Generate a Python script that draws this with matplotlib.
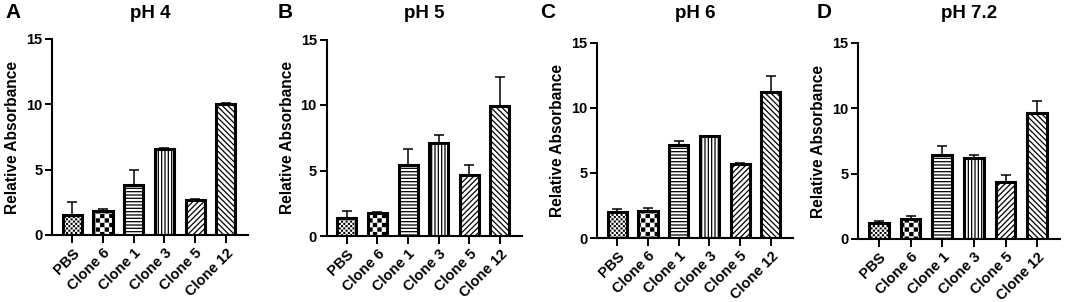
import numpy as np
import matplotlib
matplotlib.use("Agg")
import matplotlib.pyplot as plt
from matplotlib import hatch as mhatch
from matplotlib.path import Path

# ---- data ----
groups = ["PBS", "Clone 6", "Clone 1", "Clone 3", "Clone 5", "Clone 12"]
panels = ["A", "B", "C", "D"]
titles = ["pH 4", "pH 5", "pH 6", "pH 7.2"]

ph4_mean = [1.55, 1.85, 3.8, 6.6, 2.65, 10.0]
ph4_err = [0.95, 0.12, 1.15, 0.08, 0.12, 0.1]
ph5_mean = [1.4, 1.78, 5.42, 7.07, 4.63, 9.92]
ph5_err = [0.48, 0.02, 1.2, 0.63, 0.8, 2.2]
ph6_mean = [1.97, 2.04, 7.13, 7.8, 5.68, 11.22]
ph6_err = [0.28, 0.29, 0.28, 0.05, 0.06, 1.2]
ph72_mean = [1.22, 1.56, 6.45, 6.22, 4.39, 9.62]
ph72_err = [0.18, 0.23, 0.69, 0.18, 0.51, 0.97]

means = [ph4_mean, ph5_mean, ph6_mean, ph72_mean]
errs = [ph4_err, ph5_err, ph6_err, ph72_err]


# ---- checkerboard hatches (replace the circle hatches 'o' / 'O') ----
class _Checker(mhatch.HatchPatternBase):
    char = "o"
    cells = 40
    inset = 0.12

    def __init__(self, hatch, density):
        self.n = self.cells if hatch.count(self.char) else 0
        self.num_vertices = 5 * (self.n * self.n // 2)

    def set_vertices_and_codes(self, vertices, codes):
        s = 1.0 / self.n
        ins = self.inset * s
        sq = np.array([[ins, ins], [s - ins, ins], [s - ins, s - ins],
                       [ins, s - ins], [ins, ins]])
        i, j = np.meshgrid(np.arange(self.n), np.arange(self.n))
        m = (i + j) % 2 == 0
        org = np.column_stack([i[m], j[m]]) * s
        vertices[:] = (org[:, None, :] + sq[None]).reshape(-1, 2)
        c = [Path.MOVETO, Path.LINETO, Path.LINETO, Path.LINETO, Path.CLOSEPOLY]
        codes[:] = np.tile(c, len(org))


class FineChecker(_Checker):
    char = "o"
    cells = 44
    inset = 0.32


class CoarseChecker(_Checker):
    char = "O"
    cells = 22
    inset = 0.16


mhatch._hatch_types[:] = [t for t in mhatch._hatch_types
                          if t not in (mhatch.SmallCircles, mhatch.LargeCircles)]
mhatch._hatch_types += [FineChecker, CoarseChecker]

hatches = ["o", "O", "-----", "|||||", "//////", "\\\\\\\\\\\\"]

plt.rcParams["font.family"] = ["Liberation Sans", "DejaVu Sans"]
plt.rcParams["font.weight"] = "bold"
plt.rcParams["hatch.linewidth"] = 0.9

W, H = 1065, 302
fig = plt.figure(figsize=(W / 100, H / 100), dpi=100)

# axes boxes in pixels: left, top, right, bottom
boxes = [(52, 39, 248, 235), (326.5, 39.5, 522, 236),
         (597, 42.5, 793, 238), (858, 43, 1060, 239)]
letter_x = [5, 278, 540, 817]
title_x = [150, 424, 695, 969]

x = np.arange(len(groups))
for k in range(4):
    l, t, r, b = boxes[k]
    ax = fig.add_axes([l / W, 1 - b / H, (r - l) / W, (b - t) / H])
    m = np.array(means[k])
    e = np.array(errs[k])
    ax.errorbar(x, m, yerr=[np.zeros_like(e), e], fmt="none", ecolor="black",
                elinewidth=1.1, capsize=3.6, capthick=1.1, zorder=1)
    bars = ax.bar(x, m, width=0.62, color="white", edgecolor="black",
                  linewidth=2.2, zorder=2)
    for bar, h in zip(bars, hatches):
        bar.set_hatch(h)

    ax.set_ylim(0, 15)
    ax.set_yticks([0, 5, 10, 15])
    ax.set_xlim(-0.66, 5.72)
    ax.set_xticks(x)
    ax.set_xticklabels(groups, rotation=45, ha="right", rotation_mode="anchor",
                       fontsize=10.5, fontweight="bold")
    for lab in ax.get_yticklabels():
        lab.set_fontsize(10.5)
        lab.set_fontweight("bold")
    ax.tick_params(axis="both", width=1.4, length=5, pad=2)
    ax.tick_params(axis="x", length=6)
    for s in ["top", "right"]:
        ax.spines[s].set_visible(False)
    for s in ["left", "bottom"]:
        ax.spines[s].set_linewidth(1.5)
    ax.set_ylabel("Relative Absorbance", fontsize=11.2, fontweight="bold",
                  labelpad=4)

    fig.text(letter_x[k] / W, 1 - 12.5 / H, panels[k], fontsize=15,
             fontweight="bold", ha="left", va="center")
    fig.text(title_x[k] / W, 1 - 13.5 / H, titles[k], fontsize=13.5,
             fontweight="bold", ha="center", va="center")

fig.savefig("out.png", dpi=100)
